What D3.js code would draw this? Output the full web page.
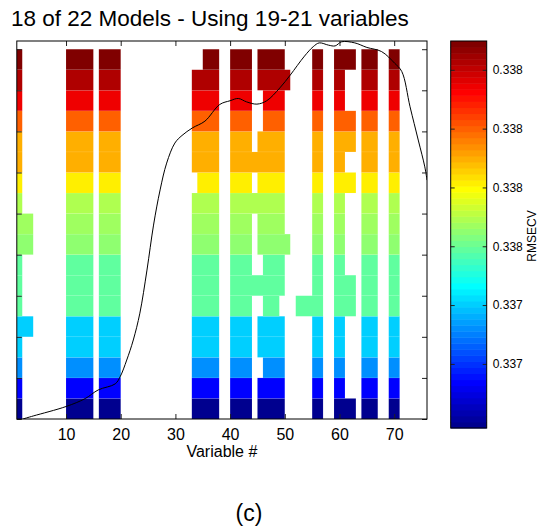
<!DOCTYPE html>
<html>
<head>
<meta charset="utf-8">
<script src="https://cdn.jsdelivr.net/npm/d3@7"></script>
<style>
  body { margin: 0; background: #fff; }
  text { font-family: "Liberation Sans", Arial, sans-serif; fill: #000; }
</style>
</head>
<body>
<svg id="chart" width="540" height="527"></svg>
<script>
// models, bottom (best RMSECV) to top
const models = d3.range(1, 19);
const rmsecv = [
  0.33699, 0.337136, 0.337322, 0.337403, 0.337403, 0.337589,
  0.337589, 0.337589, 0.33765, 0.33767, 0.337691, 0.337815,
  0.337897, 0.337897, 0.337999, 0.338144, 0.338226, 0.338291
];
// selected variable ranges per model [from, to]
const selected = [
  [[1,1],[10,14],[16,19],[33,37],[40,43],[45,49],[55,56],[59,62],[64,66],[69,70]],
  [[1,1],[10,14],[16,19],[33,37],[40,43],[45,49],[55,56],[59,60],[64,66],[69,70]],
  [[1,1],[10,14],[16,19],[33,37],[40,43],[46,49],[55,56],[59,60],[64,66],[69,70]],
  [[1,1],[10,14],[16,19],[33,37],[40,43],[45,49],[55,56],[59,60],[64,66],[69,70]],
  [[1,3],[10,14],[16,19],[33,37],[40,43],[45,49],[55,56],[59,60],[64,66],[69,70]],
  [[1,1],[10,14],[16,19],[33,37],[40,43],[46,48],[52,56],[59,62],[64,66],[69,70]],
  [[1,1],[10,14],[16,19],[33,37],[40,49],[55,56],[59,62],[64,66],[69,70]],
  [[1,1],[10,14],[16,19],[33,37],[40,43],[46,49],[55,56],[59,60],[64,66],[69,70]],
  [[1,3],[10,14],[16,19],[33,37],[40,43],[45,50],[55,56],[59,60],[64,66],[69,70]],
  [[1,3],[10,14],[16,19],[33,37],[40,43],[45,49],[55,56],[59,60],[64,66],[69,70]],
  [[1,1],[10,14],[16,19],[33,37],[40,49],[55,56],[59,60],[64,66],[69,70]],
  [[1,1],[10,14],[16,19],[34,37],[40,43],[45,49],[55,56],[59,62],[64,66],[69,70]],
  [[1,1],[10,14],[16,19],[33,37],[40,49],[55,56],[59,60],[64,66],[69,70]],
  [[1,1],[10,14],[16,19],[33,37],[40,43],[45,49],[55,56],[59,62],[64,66],[69,70]],
  [[1,1],[10,14],[16,19],[33,37],[40,43],[46,49],[55,56],[59,62],[64,66],[69,70]],
  [[1,1],[10,14],[16,19],[33,37],[40,43],[46,49],[55,56],[59,60],[64,66],[69,70]],
  [[1,1],[10,14],[16,19],[33,37],[40,43],[45,50],[55,56],[59,60],[64,66],[69,70]],
  [[1,1],[10,14],[16,19],[35,37],[40,43],[45,49],[55,56],[59,62],[64,66],[69,70]]
];
// mean spectrum overlay (variable #, normalised intensity)
const specX = [2.1, 4, 10, 13.5, 15.9, 19, 19.9, 21.1, 22.3, 23.5, 24.8, 26, 27.2, 28.4, 29.9,
  31.2, 33.1, 35.4, 38.1, 40, 41.5, 43, 44.9, 46.7, 49.1, 51, 53.6, 55.2, 56.3, 58, 59.2,
  60.4, 62.8, 65, 67.7, 70.1, 71.4, 72.9, 74.4, 75.6, 76];
const specY = [0, 0.008, 0.033, 0.054, 0.077, 0.093, 0.112, 0.156, 0.209, 0.28, 0.394, 0.513,
  0.606, 0.677, 0.73, 0.75, 0.77, 0.788, 0.832, 0.842, 0.848, 0.839, 0.833, 0.842, 0.876,
  0.91, 0.96, 0.985, 0.995, 0.989, 0.987, 0.998, 0.995, 0.983, 0.972, 0.941, 0.919, 0.826,
  0.738, 0.667, 0.632];
const xTicks = [10, 20, 30, 40, 50, 60, 70];
const yTicks = [0, 2, 4, 6, 8, 10, 12, 14, 16, 18];
const cbTicks = [0.3372, 0.3374, 0.3376, 0.3378, 0.338, 0.3382];
const cMin = 0.336982, cMax = 0.338298;

const L = 16.8, R = 427, T = 41, B = 419;
const svg = d3.select("#chart");

const x = d3.scaleLinear().domain([1, 76]).range([L, R]);
const y = d3.scaleLinear().domain([0, 18.4]).range([B, T]);
const ys = d3.scaleLinear().domain([0, 1]).range([B, T]);

function jet(t) {
  const c = (v) => Math.max(0, Math.min(1, v));
  return d3.rgb(255 * c(1.5 - Math.abs(4 * t - 3)),
                255 * c(1.5 - Math.abs(4 * t - 2)),
                255 * c(1.5 - Math.abs(4 * t - 1))).formatHex();
}
const jetColors = d3.range(1, 65).map((k) => jet(k / 64));
const color = d3.scaleQuantize().domain([cMin, cMax]).range(jetColors);

svg.append("clipPath").attr("id", "plot-clip")
  .append("rect").attr("x", L).attr("y", T).attr("width", R - L).attr("height", B - T);

// runs of selected variables, one rect each
const runs = [];
models.forEach((m, i) => {
  selected[i].forEach(([a, b]) => runs.push({ m: m, a: a, b: b, val: rmsecv[i] }));
});

svg.append("g").attr("clip-path", "url(#plot-clip)")
  .selectAll("rect")
  .data(runs)
  .enter()
  .append("rect")
  .attr("x", (d) => x(d.a))
  .attr("y", (d) => y(d.m))
  .attr("width", (d) => x(d.b + 1) - x(d.a))
  .attr("height", (d) => y(d.m - 1) - y(d.m))
  .style("fill", (d) => color(d.val))
  .style("stroke", "#fff")
  .style("stroke-opacity", 0.12)
  .style("stroke-width", 0.5);

// spectrum line
const line = d3.line()
  .x((d) => x(d[0]))
  .y((d) => ys(d[1]))
  .curve(d3.curveCatmullRom);

svg.append("path")
  .attr("clip-path", "url(#plot-clip)")
  .datum(specX.map((d, i) => [d, specY[i]]))
  .attr("d", line)
  .style("fill", "none")
  .style("stroke", "#000")
  .style("stroke-width", 1);

// axes (inward ticks on all sides)
function styleAxis(g) {
  g.select(".domain").remove();
  g.selectAll(".tick line").style("stroke", "#222");
}
svg.append("g").attr("transform", `translate(0,${B})`)
  .call(d3.axisBottom(x).tickValues(xTicks).tickSize(-5).tickPadding(10))
  .call(styleAxis)
  .selectAll("text").style("font-size", "16px");
svg.append("g").attr("transform", `translate(0,${T})`)
  .call(d3.axisTop(x).tickValues(xTicks).tickSize(-5).tickFormat(""))
  .call(styleAxis);
svg.append("g").attr("transform", `translate(${L},0)`)
  .call(d3.axisLeft(y).tickValues(yTicks).tickSize(-5).tickFormat(""))
  .call(styleAxis);
svg.append("g").attr("transform", `translate(${R},0)`)
  .call(d3.axisRight(y).tickValues(yTicks).tickSize(-5).tickFormat(""))
  .call(styleAxis);

svg.append("rect")
  .attr("x", L).attr("y", T).attr("width", R - L).attr("height", B - T)
  .style("fill", "none").style("stroke", "#000").style("stroke-width", 1);

// colorbar
const cbL = 450.7, cbR = 486.7;
const cb = d3.scaleLinear().domain([cMin, cMax]).range([428, 41]);
const step = (cMax - cMin) / 64;
svg.append("g")
  .selectAll("rect")
  .data(jetColors)
  .enter()
  .append("rect")
  .attr("x", cbL)
  .attr("width", cbR - cbL)
  .attr("y", (d, k) => cb(cMin + (k + 1) * step))
  .attr("height", (d, k) => cb(cMin + k * step) - cb(cMin + (k + 1) * step) + 0.5)
  .style("fill", (d) => d);

svg.append("g").attr("transform", `translate(${cbR},0)`)
  .call(d3.axisRight(cb).tickValues(cbTicks).tickSize(-4).tickPadding(6).tickFormat(d3.format(".3f")))
  .call(styleAxis)
  .selectAll("text").style("font-size", "12px");
svg.append("g").attr("transform", `translate(${cbL},0)`)
  .call(d3.axisLeft(cb).tickValues(cbTicks).tickSize(-4).tickFormat(""))
  .call(styleAxis);
svg.append("rect")
  .attr("x", cbL).attr("y", 41).attr("width", cbR - cbL).attr("height", 387)
  .style("fill", "none").style("stroke", "#000").style("stroke-width", 1);

// text
svg.append("text").attr("x", 11).attr("y", 26)
  .style("font-size", "22.5px").text("18 of 22 Models - Using 19-21 variables");
svg.append("text").attr("x", (L + R) / 2).attr("y", 457).attr("text-anchor", "middle")
  .style("font-size", "16px").text("Variable #");
svg.append("text").attr("transform", "translate(536,236) rotate(-90)").attr("text-anchor", "middle")
  .style("font-size", "12px").text("RMSECV");
svg.append("text").attr("x", 249).attr("y", 521).attr("text-anchor", "middle")
  .style("font-size", "23px").text("(c)");
</script>
</body>
</html>
